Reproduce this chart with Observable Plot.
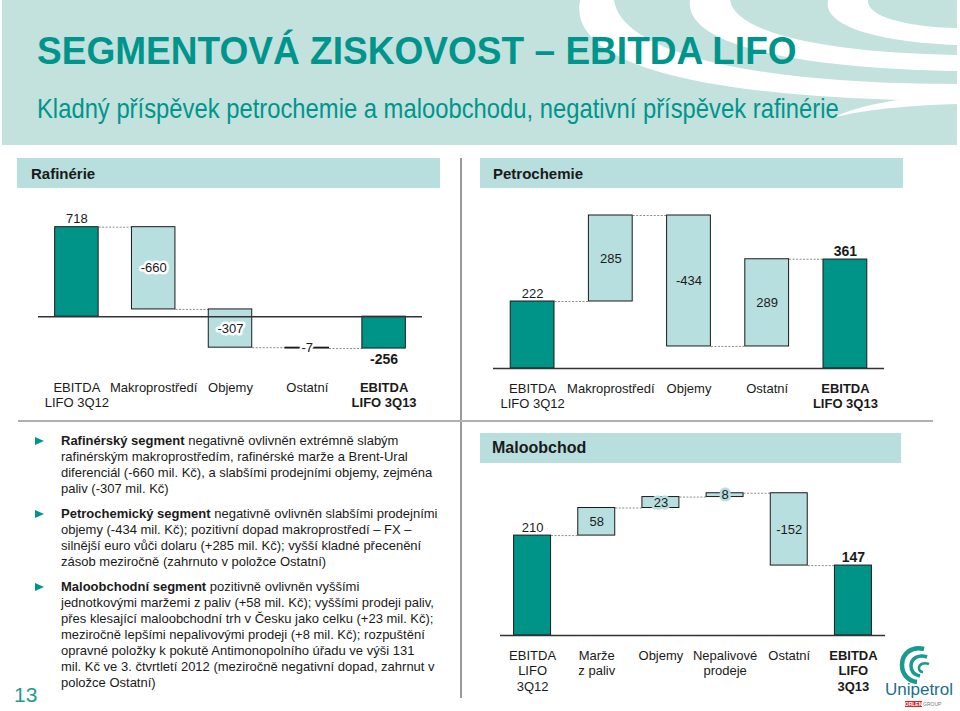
<!DOCTYPE html>
<html><head><meta charset="utf-8">
<script src="https://cdn.jsdelivr.net/npm/d3@7"></script>
<script src="https://cdn.jsdelivr.net/npm/@observablehq/plot@0.6"></script>
<style>
body{margin:0;background:#fff;font-family:"Liberation Sans",Arial,sans-serif;color:#1a1a1a;}
#slide{position:relative;width:960px;height:711px;overflow:hidden;background:#fff;}
.abs{position:absolute;}
.title{left:37px;top:29px;font-size:39px;line-height:normal;font-weight:bold;color:#00958c;white-space:nowrap;transform-origin:0 0;transform:scaleX(0.95);}
.sub{left:37px;top:93px;font-size:28px;line-height:normal;color:#00958c;white-space:nowrap;transform-origin:0 0;transform:scaleX(0.85);}
.bar{background:#b8dedd;font-weight:bold;font-size:15px;display:flex;align-items:center;box-sizing:border-box;}
.para{left:35px;width:420px;font-size:13px;line-height:16px;padding-left:26px;box-sizing:border-box;}
.para::before{content:"";position:absolute;left:0;top:4px;border-left:9px solid #00958c;border-top:4.5px solid transparent;border-bottom:4.5px solid transparent;}
</style></head><body>
<div id="slide">
  <svg class="abs" style="left:0;top:0" width="960" height="146">
    <rect x="2" y="0" width="955" height="145" fill="#c3e2de"/>
    <path d="M580,0 C568,62 690,99 957,101 L957,84 C760,84 622,55 614,0 Z" fill="#fff"/>
    <path d="M690,0 C684,44 790,68 957,71 L957,55 C830,53 735,34 730,0 Z" fill="#fff"/>
    <path d="M828,0 C822,26 878,42 957,45 L957,28 C905,27 866,16 868,0 Z" fill="#fff"/>
    <path d="M832,118 C870,108 920,105 957,104 L957,94 C905,97 862,104 832,118 Z" fill="#fff"/>
  </svg>
  <div class="abs title">SEGMENTOVÁ ZISKOVOST – EBITDA LIFO</div>
  <div class="abs sub">Kladný příspěvek petrochemie a maloobchodu, negativní příspěvek rafinérie</div>

  <div class="abs bar" style="left:17px;top:158px;width:423px;height:30px;padding-left:14px;">Rafinérie</div>
  <div class="abs bar" style="left:480px;top:158px;width:423px;height:30px;padding-left:13px;">Petrochemie</div>
  <div class="abs bar" style="left:480px;top:433px;width:421px;height:30px;padding-left:12px;font-size:16px;">Maloobchod</div>

  <div class="abs" style="left:460px;top:158px;width:1.5px;height:540px;background:#9a9a9a;"></div>
  <div class="abs" style="left:18px;top:420px;width:915px;height:1.5px;background:#b0b0b0;"></div>

  <div id="ref" class="abs" style="left:0;top:192px;"></div>
  <div id="pet" class="abs" style="left:460px;top:192px;"></div>
  <div id="ret" class="abs" style="left:480px;top:465px;"></div>

  <div class="abs para" style="top:433px;"><b>Rafinérský segment</b> negativně ovlivněn extrémně slabým<br>rafinérským makroprostředím, rafinérské marže a Brent-Ural<br>diferenciál (-660 mil. Kč), a slabšími prodejními objemy, zejména<br>paliv (-307 mil. Kč)</div>
  <div class="abs para" style="top:506px;"><b>Petrochemický segment</b> negativně ovlivněn slabšími prodejními<br>objemy (-434 mil. Kč); pozitivní dopad makroprostředí – FX –<br>silnější euro vůči dolaru (+285 mil. Kč); vyšší kladné přecenění<br>zásob meziročně (zahrnuto v položce Ostatní)</div>
  <div class="abs para" style="top:579px;"><b>Maloobchodní segment</b> pozitivně ovlivněn vyššími<br>jednotkovými maržemi z paliv (+58 mil. Kč); vyššími prodeji paliv,<br>přes klesající maloobchodní trh v Česku jako celku (+23 mil. Kč);<br>meziročně lepšími nepalivovými prodeji (+8 mil. Kč); rozpuštění<br>opravné položky k pokutě Antimonopolního úřadu ve výši 131<br>mil. Kč ve 3. čtvrtletí 2012 (meziročně negativní dopad, zahrnut v<br>položce Ostatní)</div>

  <div class="abs" style="left:14px;top:683px;font-size:21px;color:#1f9a92;">13</div>

  <svg class="abs" style="left:880px;top:644px" width="80" height="67">
    <path d="M44,5 C32,2 22,9 22,21 C22,31 29,37 37,38" fill="none" stroke="#1a9a8e" stroke-width="4.5"/>
    <path d="M47,13 C39,10 31,14 31,22 C31,28 35,31 40,32" fill="none" stroke="#1a9a8e" stroke-width="3.5"/>
    <path d="M49,20 C44,18 39,20 39,24 C39,27 41,28 43,28" fill="none" stroke="#1a9a8e" stroke-width="2.5"/>
    <text x="39" y="51" text-anchor="middle" font-family="Liberation Sans, Arial" font-size="17" fill="#1b6f8c">Unipetrol</text>
    <rect x="25" y="57" width="17" height="6" fill="#d8242b"/>
    <text x="33.5" y="62" text-anchor="middle" font-family="Liberation Sans, Arial" font-size="5" font-weight="bold" fill="#fff">ORLEN</text>
    <text x="43" y="62" font-family="Liberation Sans, Arial" font-size="5" fill="#777">GROUP</text>
  </svg>
</div>
<script>
// ---- data ----
const refCats = ["EBITDA\nLIFO 3Q12", "Makroprostředí", "Objemy", "Ostatní", "EBITDA\nLIFO 3Q13"];
const refVals = [718, -660, -307, -7, -256];
const refKinds = ["total", "delta", "delta", "delta", "total"];

const petCats = ["EBITDA\nLIFO 3Q12", "Makroprostředí", "Objemy", "Ostatní", "EBITDA\nLIFO 3Q13"];
const petVals = [222, 285, -434, 289, 361];
const petKinds = ["total", "delta", "delta", "delta", "total"];

const retCats = ["EBITDA\nLIFO\n3Q12", "Marže\nz paliv", "Objemy", "Nepalivové\nprodeje", "Ostatní", "EBITDA\nLIFO\n3Q13"];
const retVals = [210, 58, 23, 8, -152, 147];
const retKinds = ["total", "delta", "delta", "delta", "delta", "total"];

const DARK = "#009489", LIGHT = "#b8dfe0", FONT = "Liberation Sans, Arial, sans-serif";

function waterfall(vals, kinds) {
  let run = 0;
  return vals.map((v, i) => {
    let y1, y2;
    if (kinds[i] === "total") { y1 = 0; y2 = v; run = v; }
    else { y1 = run; y2 = run + v; run = y2; }
    return {i, v, kind: kinds[i], y1, y2, end: run};
  });
}

function chart(o) {
  const rows = waterfall(o.vals, o.kinds);
  const last = rows.length - 1;
  const half = o.half;
  const links = rows.slice(0, last).map(r => ({x1: r.i + half, x2: r.i + 1 - half, y: r.end}));
  const totals = rows.filter(r => r.kind === "total");
  const deltas = rows.filter(r => r.kind === "delta");
  const marks = [
    Plot.link(links, {x1: "x1", x2: "x2", y1: "y", y2: "y", stroke: "#8c8c8c", strokeWidth: 1, strokeDasharray: "2,1.5"}),
    Plot.rect(deltas, {x1: d => d.i - half, x2: d => d.i + half, y1: "y1", y2: "y2", fill: LIGHT, stroke: "#1a1a1a", strokeWidth: 1}),
    Plot.rect(totals, {x1: d => d.i - half, x2: d => d.i + half, y1: "y1", y2: "y2", fill: DARK, stroke: "#1a1a1a", strokeWidth: 1}),
    Plot.ruleY([0], {stroke: "#333", strokeWidth: 1.5}),
    Plot.text(deltas, {x: "i", y: d => (d.y1 + d.y2) / 2, text: d => String(d.v), fontSize: 13, fill: "#1a1a1a", stroke: o.halo, strokeWidth: 5})
  ];
  totals.forEach(r => {
    const bold = r.i === last;
    marks.push(Plot.text([r], {x: "i", y: "y2", text: d => String(d.v), fontSize: bold ? 14 : 13,
      fontWeight: bold ? "bold" : "normal", fill: "#1a1a1a",
      lineAnchor: r.v >= 0 ? "bottom" : "top", dy: r.v >= 0 ? -4 : 5}));
  });
  const idx = rows.map(r => r.i);
  marks.push(Plot.axisX(idx.slice(0, last), {tickSize: 0, tickPadding: o.pad, tickFormat: i => o.cats[i], fontSize: 13, lineHeight: 1.2, label: null, fill: "#1a1a1a"}));
  marks.push(Plot.axisX([last], {tickSize: 0, tickPadding: o.pad, tickFormat: i => o.cats[i], fontSize: 13, fontWeight: "bold", lineHeight: 1.2, label: null, fill: "#1a1a1a"}));
  return Plot.plot({
    width: o.width, height: o.height,
    marginTop: o.mt, marginBottom: o.mb, marginLeft: o.ml, marginRight: o.mr,
    x: {domain: [-0.5, rows.length - 0.5]},
    y: {domain: o.domain, axis: null},
    style: {fontFamily: FONT, fontSize: "13px", color: "#1a1a1a", background: "transparent", overflow: "visible"},
    marks
  });
}

document.getElementById("ref").append(chart({cats: refCats, vals: refVals, kinds: refKinds, domain: [-400, 900],
  width: 460, height: 230, mt: 12, mb: 56, ml: 38, mr: 38, half: 0.283, pad: 14, halo: "#fff"}));
document.getElementById("pet").append(chart({cats: petCats, vals: petVals, kinds: petKinds, domain: [0, 560],
  width: 460, height: 230, mt: 7, mb: 54, ml: 33, mr: 36, half: 0.28, pad: 13, halo: LIGHT}));
document.getElementById("ret").append(chart({cats: retCats, vals: retVals, kinds: retKinds, domain: [0, 330],
  width: 440, height: 245, mt: 13, mb: 75, ml: 20, mr: 35, half: 0.288, pad: 13, halo: LIGHT}));
</script>
</body></html>
